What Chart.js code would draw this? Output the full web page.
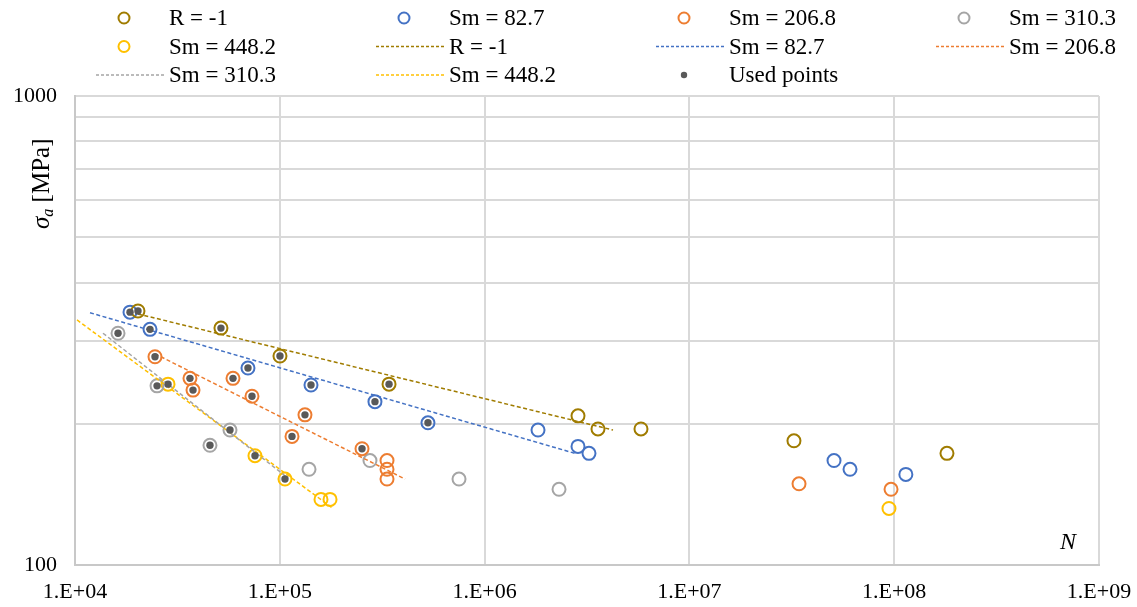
<!DOCTYPE html>
<html>
<head>
<meta charset="utf-8">
<script src="https://cdn.jsdelivr.net/npm/chart.js@4/dist/chart.umd.min.js"></script>
<style>
  html, body { margin: 0; padding: 0; background: #fff; }
  canvas { display: block; }
</style>
</head>
<body>
<canvas id="snChart" width="1137" height="607"></canvas>
<script>
// S-N data: cycles N and stress amplitude (MPa), one set per mean stress
var seriesNames  = ['R = -1', 'Sm = 82.7', 'Sm = 206.8', 'Sm = 310.3', 'Sm = 448.2'];
var seriesColors = ['#A07C00', '#4472C4', '#ED7D31', '#A5A5A5', '#FFC000'];

var nR1   = [20300, 51600, 100200, 341500, 2858000, 3578000, 5802000, 32400000, 181000000];
var sR1   = [348, 320, 279, 243, 208, 195, 195, 184, 173];
var useR1 = [1, 1, 1, 1, 0, 0, 0, 0, 0];

var n83   = [18560, 23240, 69920, 142000, 291500, 529000, 1823000, 2858000, 3234000, 50830000, 60850000, 114000000];
var s83   = [346, 318, 263, 242, 223, 201, 194, 179, 173, 167, 160, 156];
var use83 = [1, 1, 1, 1, 1, 1, 0, 0, 0, 0, 0, 0];

var n207   = [24580, 36420, 37690, 59080, 73140, 132700, 114700, 252000, 333800, 333800, 333800, 34300000, 96500000];
var s207   = [278, 250, 236, 250, 229, 209, 188, 177, 167, 160, 152.5, 149, 145];
var use207 = [1, 1, 1, 1, 1, 1, 1, 1, 0, 0, 0, 0, 0];

var n310   = [16220, 25150, 57120, 45610, 138900, 275600, 750000, 2309000];
var s310   = [312, 241, 194, 180, 160, 167, 152.5, 145];
var use310 = [1, 1, 1, 1, 0, 0, 0, 0];

var n448   = [28460, 75640, 106000, 158900, 175900, 94300000];
var s448   = [243, 171, 152.5, 138, 138, 132];
var use448 = [1, 1, 1, 0, 0, 0];

// power-law trend lines (start / end)
var trendN = [[20300, 4236000], [11840, 2763000], [24580, 408600], [13700, 106000], [10230, 181900]];
var trendS = [[343, 194], [345, 173], [282, 152.5], [312, 155], [333, 132]];

var xTickValues = [1e4, 1e5, 1e6, 1e7, 1e8, 1e9];
var xTickLabels = ['1.E+04', '1.E+05', '1.E+06', '1.E+07', '1.E+08', '1.E+09'];
var yTickValues = [100, 200, 300, 400, 500, 600, 700, 800, 900, 1000];
var yTickLabels = ['100', '', '', '', '', '', '', '', '', '1000'];

var FONT = "'Times New Roman', 'Liberation Serif', serif";

var allN = [nR1, n83, n207, n310, n448];
var allS = [sR1, s83, s207, s310, s448];
var allUse = [useR1, use83, use207, use310, use448];

function toPoints(xs, ys) {
    var pts = [];
    for (var i = 0; i < xs.length; i++) pts.push({x: xs[i], y: ys[i]});
    return pts;
}

var datasets = [];
for (var k = 0; k < 5; k++) {
    datasets.push({
        label: seriesNames[k],
        data: toPoints(allN[k], allS[k]),
        showLine: false,
        pointRadius: 6.5,
        pointBorderWidth: 2,
        pointBackgroundColor: 'rgba(0,0,0,0)',
        pointBorderColor: seriesColors[k],
        borderColor: seriesColors[k],
        order: 2,
        legendKind: 'marker'
    });
}
for (var k = 0; k < 5; k++) {
    datasets.push({
        label: seriesNames[k],
        data: toPoints(trendN[k], trendS[k]),
        showLine: true,
        pointRadius: 0,
        borderWidth: 1.5,
        borderDash: [4, 2.5],
        borderColor: seriesColors[k],
        order: 1,
        legendKind: 'line'
    });
}
var usedPts = [];
for (var k = 0; k < 5; k++) {
    for (var i = 0; i < allN[k].length; i++) {
        if (allUse[k][i]) usedPts.push({x: allN[k][i], y: allS[k][i]});
    }
}
datasets.push({
    label: 'Used points',
    data: usedPts,
    showLine: false,
    pointRadius: 3.7,
    pointBorderWidth: 0,
    pointBackgroundColor: '#595959',
    pointBorderColor: '#595959',
    order: 0,
    legendKind: 'dot'
});

// legend grid (4 columns), axis title and N label drawn by hand
var decorations = {
    id: 'decorations',
    afterDraw: function(chart) {
        var ctx = chart.ctx;
        ctx.save();
        ctx.font = '23px ' + FONT;
        ctx.textBaseline = 'middle';
        ctx.fillStyle = '#000';
        var ds = chart.data.datasets;
        for (var i = 0; i < ds.length; i++) {
            var col = i % 4, row = Math.floor(i / 4);
            var x0 = 96 + col * 280;
            var y = 18 + row * 28.5;
            var d = ds[i];
            if (d.legendKind === 'marker') {
                ctx.beginPath();
                ctx.arc(x0 + 28, y, 5.5, 0, Math.PI * 2);
                ctx.lineWidth = 2;
                ctx.strokeStyle = d.pointBorderColor;
                ctx.stroke();
            } else if (d.legendKind === 'line') {
                ctx.beginPath();
                ctx.setLineDash([3, 2]);
                ctx.moveTo(x0, y);
                ctx.lineTo(x0 + 68, y);
                ctx.lineWidth = 1.3;
                ctx.strokeStyle = d.borderColor;
                ctx.stroke();
                ctx.setLineDash([]);
            } else {
                ctx.beginPath();
                ctx.arc(x0 + 28, y, 3.2, 0, Math.PI * 2);
                ctx.fillStyle = '#595959';
                ctx.fill();
                ctx.fillStyle = '#000';
            }
            ctx.textAlign = 'left';
            ctx.fillText(d.label, x0 + 73, y + 1);
        }

        // y axis title: sigma_a [MPa]
        ctx.translate(41, 229);
        ctx.rotate(-Math.PI / 2);
        ctx.textBaseline = 'alphabetic';
        ctx.textAlign = 'left';
        ctx.font = 'italic 25px ' + FONT;
        ctx.fillText('\u03c3', 0, 8);
        var w = ctx.measureText('\u03c3').width;
        ctx.font = 'italic 16px ' + FONT;
        ctx.fillText('a', w, 12);
        w += ctx.measureText('a').width;
        ctx.font = '25px ' + FONT;
        ctx.fillText(' [MPa]', w, 8);
        ctx.restore();

        ctx.save();
        ctx.font = 'italic 24px ' + FONT;
        ctx.fillStyle = '#000';
        ctx.textAlign = 'center';
        ctx.textBaseline = 'middle';
        ctx.fillText('N', 1068, 543);
        ctx.restore();
    }
};

new Chart(document.getElementById('snChart'), {
    type: 'scatter',
    data: {datasets: datasets},
    options: {
        responsive: false,
        animation: false,
        layout: {padding: {top: 96, right: 38, left: 0, bottom: 0}},
        plugins: {legend: {display: false}, tooltip: {enabled: false}},
        scales: {
            x: {
                type: 'logarithmic',
                min: 1e4,
                max: 1e9,
                afterBuildTicks: function(s) {
                    s.ticks = xTickValues.map(function(v) { return {value: v}; });
                },
                afterFit: function(s) {
                    s.height = 42;
                    s.paddingLeft = 0;
                    s.paddingRight = 0;
                },
                ticks: {
                    autoSkip: false,
                    maxRotation: 0,
                    padding: 14,
                    color: '#000',
                    font: {family: FONT, size: 22},
                    callback: function(v) { return xTickLabels[xTickValues.indexOf(v)]; }
                },
                grid: {color: '#d9d9d9', lineWidth: 2, drawTicks: false},
                border: {color: '#c8c8c8', width: 2}
            },
            y: {
                type: 'logarithmic',
                min: 100,
                max: 1000,
                afterBuildTicks: function(s) {
                    s.ticks = yTickValues.map(function(v) { return {value: v}; });
                },
                afterFit: function(s) {
                    s.width = 75;
                    s.paddingTop = 0;
                    s.paddingBottom = 0;
                },
                ticks: {
                    autoSkip: false,
                    padding: 18,
                    color: '#000',
                    font: {family: FONT, size: 22},
                    callback: function(v) { return yTickLabels[yTickValues.indexOf(v)]; }
                },
                grid: {color: '#d9d9d9', lineWidth: 2, drawTicks: false},
                border: {color: '#c8c8c8', width: 2}
            }
        }
    },
    plugins: [decorations]
});
</script>
</body>
</html>
